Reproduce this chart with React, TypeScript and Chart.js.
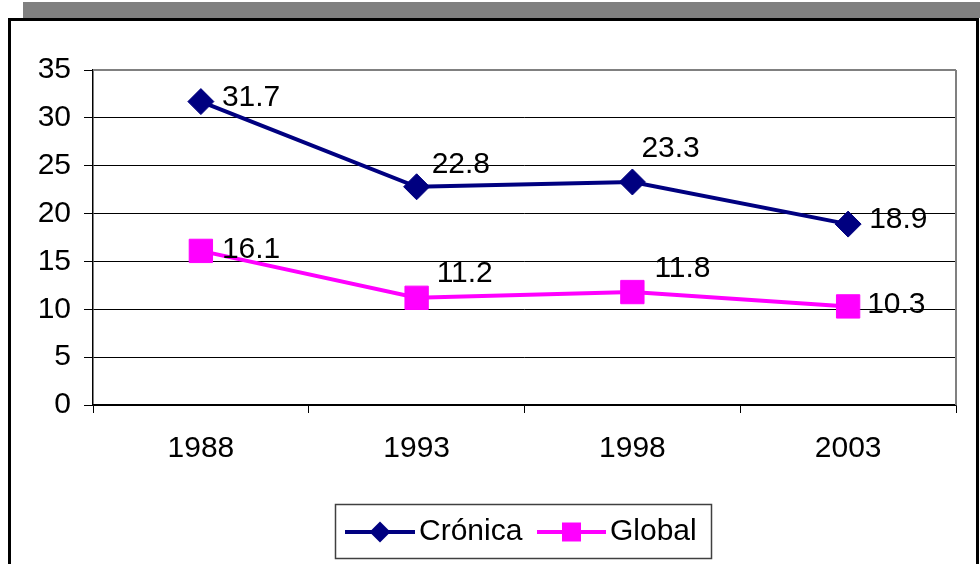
import { useEffect, useRef } from 'react';
import { Chart, registerables } from 'chart.js';

Chart.register(...registerables);

// ---- data ----
const categories = ['1988', '1993', '1998', '2003'];
const seriesNames = ['Crónica', 'Global'];
const cronicaValues = [31.7, 22.8, 23.3, 18.9];
const globalValues = [16.1, 11.2, 11.8, 10.3];
const yMin = 0;
const yMax = 35;
const yStep = 5;

// ---- styling ----
const FONT = '"Liberation Sans", Arial, sans-serif';
const FS = 30;
const NAVY = '#000080';
const MAGENTA = '#FF00FF';
// per-point data-label offsets (px) relative to the point, [dx, dy]
const labelOffsets = [
  [[21, -4], [15, -22], [9, -33], [21, -4.5]],
  [[21, -1.5], [20, -24.5], [22, -23.5], [19, -1.5]],
];

const framePlugin = {
  id: 'frame',
  beforeDraw(chart: any) {
    const ctx = chart.ctx;
    ctx.save();
    ctx.fillStyle = '#ffffff';
    ctx.fillRect(0, 0, chart.width, chart.height);
    ctx.fillStyle = '#808080';
    ctx.fillRect(23, 2, chart.width - 23, 16);
    ctx.fillStyle = '#000000';
    ctx.fillRect(8, 18, 971, 3);
    ctx.fillRect(8, 18, 3, chart.height);
    ctx.fillRect(976, 18, 3, chart.height);
    ctx.restore();
  },
  beforeDatasetsDraw(chart: any) {
    const { ctx, chartArea } = chart;
    ctx.save();
    ctx.strokeStyle = '#808080';
    ctx.lineWidth = 2;
    ctx.beginPath();
    ctx.moveTo(chartArea.left, chartArea.top);
    ctx.lineTo(chartArea.right, chartArea.top);
    ctx.moveTo(chartArea.right, chartArea.top);
    ctx.lineTo(chartArea.right, chartArea.bottom);
    ctx.stroke();
    ctx.restore();
  },
};

const labelsPlugin = {
  id: 'dataLabels',
  afterDatasetsDraw(chart: any) {
    const ctx = chart.ctx;
    ctx.save();
    ctx.font = `${FS}px ${FONT}`;
    ctx.fillStyle = '#000';
    ctx.textAlign = 'left';
    ctx.textBaseline = 'middle';
    chart.data.datasets.forEach((ds: any, di: number) => {
      const meta = chart.getDatasetMeta(di);
      meta.data.forEach((pt: any, i: number) => {
        const [dx, dy] = labelOffsets[di][i];
        ctx.fillText(String(ds.data[i]), pt.x + dx, pt.y + dy);
      });
    });
    ctx.restore();
  },
};

const legendPlugin = {
  id: 'customLegend',
  afterDraw(chart: any) {
    const ctx = chart.ctx;
    ctx.save();
    ctx.strokeStyle = '#404040';
    ctx.lineWidth = 1.5;
    ctx.strokeRect(335.5, 504.5, 376, 54);
    const cy = 532;
    const items = [
      { x0: 345, x1: 415, tx: 419, color: NAVY, shape: 'diamond' },
      { x0: 537, x1: 606, tx: 610, color: MAGENTA, shape: 'square' },
    ];
    items.forEach((it, i) => {
      ctx.strokeStyle = it.color;
      ctx.lineWidth = 4;
      ctx.beginPath();
      ctx.moveTo(it.x0, cy);
      ctx.lineTo(it.x1, cy);
      ctx.stroke();
      const mx = (it.x0 + it.x1) / 2;
      ctx.fillStyle = it.color;
      ctx.beginPath();
      if (it.shape === 'diamond') {
        ctx.moveTo(mx - 10.5, cy);
        ctx.lineTo(mx, cy - 10.5);
        ctx.lineTo(mx + 10.5, cy);
        ctx.lineTo(mx, cy + 10.5);
        ctx.closePath();
      } else {
        ctx.rect(mx - 9.5, cy - 9.5, 19, 19);
      }
      ctx.fill();
      ctx.fillStyle = '#000';
      ctx.font = `${FS}px ${FONT}`;
      ctx.textAlign = 'left';
      ctx.textBaseline = 'middle';
      ctx.fillText(seriesNames[i], it.tx, cy);
    });
    ctx.restore();
  },
};

export default function App() {
  const ref = useRef<HTMLCanvasElement>(null);
  useEffect(() => {
    if (!ref.current) return;
    const chart = new Chart(ref.current, {
      type: 'line',
      data: {
        labels: categories,
        datasets: [
          {
            label: seriesNames[0],
            data: cronicaValues,
            borderColor: NAVY,
            backgroundColor: NAVY,
            borderWidth: 4,
            pointStyle: 'rectRot',
            pointRadius: 13,
            pointBorderWidth: 1,
            pointBorderColor: NAVY,
            pointBackgroundColor: NAVY,
            tension: 0,
          },
          {
            label: seriesNames[1],
            data: globalValues,
            borderColor: MAGENTA,
            backgroundColor: MAGENTA,
            borderWidth: 4,
            pointStyle: 'rect',
            pointRadius: 16.5,
            pointBorderWidth: 1,
            pointBorderColor: MAGENTA,
            pointBackgroundColor: MAGENTA,
            tension: 0,
          },
        ],
      },
      options: {
        responsive: false,
        animation: false,
        events: [],
        layout: { padding: { top: 70, right: 24, left: 0, bottom: 0 } },
        plugins: {
          legend: { display: false },
          tooltip: { enabled: false },
          title: { display: false },
        },
        scales: {
          x: {
            type: 'category',
            offset: true,
            afterFit: (s: any) => {
              s.height = 159;
            },
            grid: {
              offset: true,
              drawOnChartArea: false,
              drawTicks: true,
              tickLength: 8,
              color: '#000',
              lineWidth: 1,
            },
            border: { display: true, color: '#000', width: 1.5 },
            ticks: {
              color: '#000',
              font: { family: FONT, size: FS },
              padding: 18,
              maxRotation: 0,
            },
          },
          y: {
            min: yMin,
            max: yMax,
            afterFit: (s: any) => {
              s.width = 93;
            },
            ticks: {
              stepSize: yStep,
              color: '#000',
              font: { family: FONT, size: FS },
              padding: 13,
            },
            grid: {
              drawTicks: true,
              tickLength: 9,
              tickColor: '#000',
              color: (c: any) => (c.tick && c.tick.value === yMax ? 'rgba(0,0,0,0)' : '#000'),
              lineWidth: 1,
            },
            border: { display: true, color: '#000', width: 1.5 },
          },
        },
      },
      plugins: [framePlugin, labelsPlugin, legendPlugin],
    });
    return () => chart.destroy();
  }, []);
  return (
    <div style={{ position: 'absolute', left: 0, top: 0, width: 980, height: 564, background: '#fff' }}>
      <canvas ref={ref} width={980} height={564} style={{ display: 'block' }} />
    </div>
  );
}
